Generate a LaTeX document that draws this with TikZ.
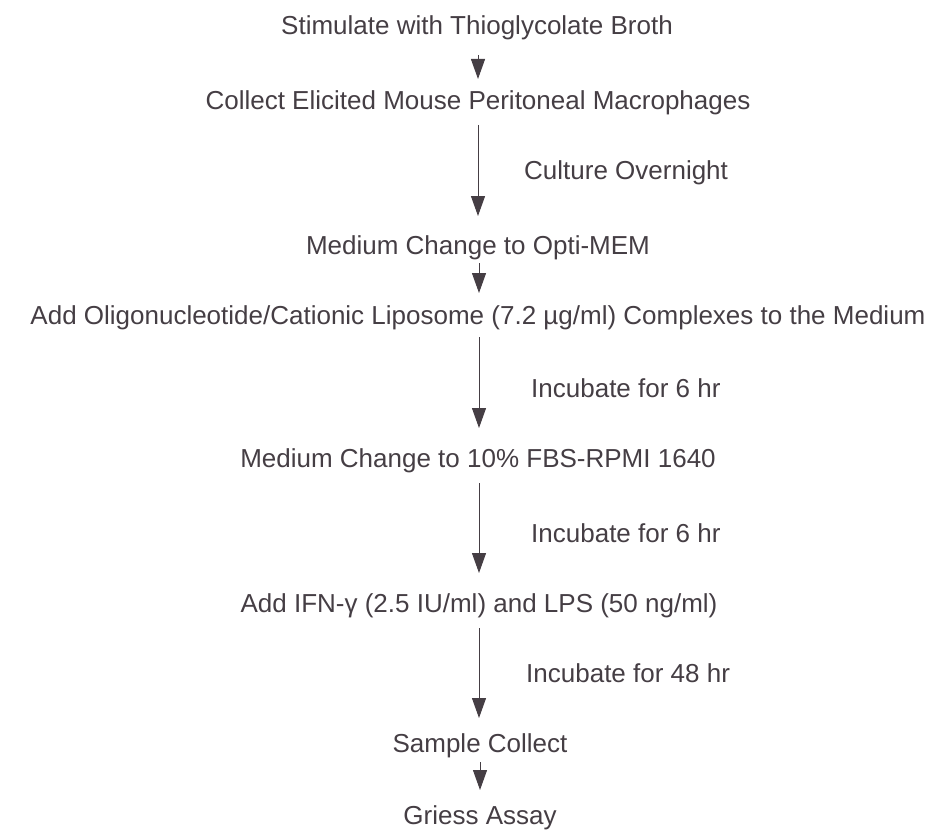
\documentclass[tikz,border=0pt]{standalone}
\usepackage{fontspec}
\setmainfont{Liberation Sans}
\usetikzlibrary{arrows.meta}
\definecolor{ink}{HTML}{453E44}
\begin{document}
\begin{tikzpicture}[x=1pt,y=-1pt,
  stepnode/.style={text=ink,font=\fontsize{26}{30}\selectfont,inner sep=0pt,anchor=center},
  lbl/.style={text=ink,font=\fontsize{26}{30}\selectfont,inner sep=0pt,anchor=west},
  flow/.style={draw=ink,line width=1pt,-{Triangle[width=14pt,length=20pt]}}]
\useasboundingbox (0,0) rectangle (949,829);
\node[stepnode] (s1) at (477,28) {Stimulate with Thioglycolate Broth};
\node[stepnode] (s2) at (478,103) {Collect Elicited Mouse Peritoneal Macrophages};
\node[stepnode] (s3) at (478,248) {Medium Change to Opti-MEM};
\node[stepnode] (s4) at (478,318) {Add Oligonucleotide/Cationic Liposome (7.2 µg/ml) Complexes to the Medium};
\node[stepnode] (s5) at (478,461) {Medium Change to 10\% FBS-RPMI 1640};
\node[stepnode] (s6) at (479,606) {Add IFN-γ (2.5 IU/ml) and LPS (50 ng/ml)};
\node[stepnode] (s7) at (480,746) {Sample Collect};
\node[stepnode] (s8) at (480,818) {Griess Assay};
\coordinate (a1s) at (478,55); \coordinate (a1e) at (478,79);
\coordinate (a2s) at (478,125); \coordinate (a2e) at (478,216);
\coordinate (a3s) at (479,263); \coordinate (a3e) at (479,293);
\coordinate (a4s) at (479,337); \coordinate (a4e) at (479,428);
\coordinate (a5s) at (479,483); \coordinate (a5e) at (479,573);
\coordinate (a6s) at (479,628); \coordinate (a6e) at (479,718);
\coordinate (a7s) at (480,762); \coordinate (a7e) at (480,790);
\draw[flow] (a1s) -- (a1e);
\draw[flow] (a2s) -- (a2e);
\draw[flow] (a3s) -- (a3e);
\draw[flow] (a4s) -- (a4e);
\draw[flow] (a5s) -- (a5e);
\draw[flow] (a6s) -- (a6e);
\draw[flow] (a7s) -- (a7e);
\node[lbl] (l2) at (524,173) {Culture Overnight};
\node[lbl] (l4) at (531,388) {Incubate for 6 hr};
\node[lbl] (l5) at (531,533) {Incubate for 6 hr};
\node[lbl] (l6) at (526,673) {Incubate for 48 hr};
\end{tikzpicture}
\end{document}
